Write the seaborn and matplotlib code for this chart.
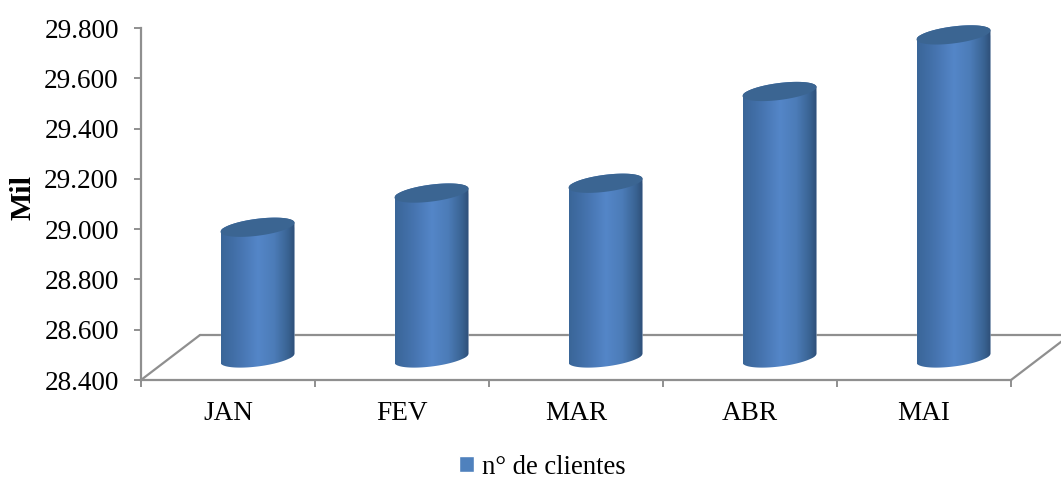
import numpy as np
import pandas as pd
import seaborn as sns
import matplotlib
matplotlib.use('Agg')
import matplotlib.pyplot as plt
from matplotlib.colors import LinearSegmentedColormap
from matplotlib.patches import PathPatch
from matplotlib.path import Path
from matplotlib.ticker import FormatStrFormatter
from matplotlib.transforms import Affine2D

# Data
months = ['JAN', 'FEV', 'MAR', 'ABR', 'MAI']
clients = [28.92, 29.056, 29.095, 29.46, 29.685]
y_ticks = [28.4, 28.6, 28.8, 29.0, 29.2, 29.4, 29.6, 29.8]

BASE = y_ticks[0]
TOP = y_ticks[-1]

sns.set_theme(style='white')
plt.rcParams['font.family'] = ['Liberation Serif', 'DejaVu Serif']

GREY = '#8f8f8f'
FONT = 19.6

fig = plt.figure(figsize=(10.61, 4.78), dpi=100)
ax = fig.add_axes([141 / 1061, 1 - 380 / 478, 870 / 1061, 352 / 478])

df = pd.DataFrame({'Month': months, 'Clients': clients})
sns.barplot(data=df, x='Month', y='Clients', ax=ax, color='#4f81bd', saturation=1,
            width=0.425, zorder=3)

ax.set_xlim(-0.5, len(months) - 0.5)
ax.set_ylim(BASE, TOP)

# 3D look: depth shift of the floor, bars stand half way in
depth_x, depth_y = 59, 45
px_per_y = 352 / (TOP - BASE)
bar_trans = ax.transData + Affine2D().translate(29.5, 22)
floor_trans = ax.transData + Affine2D().translate(depth_x, depth_y)

# floor outline
x0, x1 = ax.get_xlim()
ax.plot([x0, x1], [BASE, BASE], color=GREY, lw=1.6, transform=floor_trans, clip_on=False, zorder=1)
for xx in (x0, x1):
    p0 = ax.transData.transform((xx, BASE))
    ax.plot([p0[0], p0[0] + depth_x], [p0[1], p0[1] + depth_y], color=GREY, lw=1.6,
            transform=None, clip_on=False, zorder=1)

shade = LinearSegmentedColormap.from_list(
    'cyl', [(0, '#3a6698'), (0.18, '#426fa8'), (0.5, '#5486c8'), (0.72, '#4c7cb8'),
            (0.9, '#3a6494'), (1, '#2e4f78')])
grad = np.linspace(0, 1, 256).reshape(1, -1)

# cylinder ellipse, slightly tilted
tilt = 4.5 / px_per_y
minor = 8.5 / px_per_y


def ell(cx, cy, half, t):
    return np.column_stack([cx + half * np.cos(t), cy + tilt * np.cos(t) + minor * np.sin(t)])


for bar, val in zip(ax.patches, clients):
    cx = bar.get_x() + bar.get_width() / 2
    half = bar.get_width() / 2
    bar.set_y(BASE)
    bar.set_height(val - BASE)

    low = ell(cx, BASE, half, np.linspace(np.pi, 2 * np.pi, 60))
    high = ell(cx, val, half, np.linspace(0, np.pi, 60))
    outline = Path(np.vstack([low, high, low[:1]]), closed=True)

    clip = PathPatch(outline, transform=bar_trans)
    bar.set_transform(bar_trans)
    bar.set_clip_box(fig.bbox)
    bar.set_clip_path(clip)

    im = ax.imshow(grad, cmap=shade, vmin=0, vmax=1, aspect='auto', interpolation='bilinear',
                   extent=(cx - half, cx + half, BASE - 12 / px_per_y, val + 12 / px_per_y),
                   transform=bar_trans, zorder=4)
    im.set_clip_box(fig.bbox)
    im.set_clip_path(clip)

    cap = ell(cx, val, half, np.linspace(0, 2 * np.pi, 120))
    ax.add_patch(PathPatch(Path(cap, closed=True), facecolor='#3b6592', edgecolor='none',
                           transform=bar_trans, clip_on=False, zorder=5))

ax.set_xlim(-0.5, len(months) - 0.5)
ax.set_ylim(BASE, TOP)

ax.set_yticks(y_ticks)
ax.yaxis.set_major_formatter(FormatStrFormatter('%.3f'))

# ticks between the categories, names on minor ticks
ax.set_xticks(np.arange(len(months) + 1) - 0.5)
ax.set_xticklabels([])
ax.set_xticks(np.arange(len(months)), labels=months, minor=True)
ax.tick_params(axis='both', which='major', length=5, width=1.4, color=GREY, left=True, bottom=True,
               labelsize=FONT, labelcolor='black')
ax.tick_params(axis='x', which='minor', length=0, pad=15, labelsize=FONT, labelcolor='black')
ax.tick_params(axis='y', pad=11)

ax.set_xlabel('')
ax.set_ylabel('')
fig.text(23 / 1061, 1 - 198 / 478, 'Mil', rotation=90, ha='center', va='center',
         fontsize=21.5, fontweight='bold', color='black')

sns.despine(ax=ax)
for side in ('left', 'bottom'):
    ax.spines[side].set_color(GREY)
    ax.spines[side].set_linewidth(1.6)

leg = fig.legend([ax.patches[0]], ['n° de clientes'], loc='center',
                 bbox_to_anchor=(542 / 1061, 1 - 467 / 478), frameon=False, fontsize=19.2,
                 handlelength=0.55, handleheight=0.55, handletextpad=0.3, borderpad=0,
                 labelcolor='black')

fig.savefig('out.png', dpi=100)
